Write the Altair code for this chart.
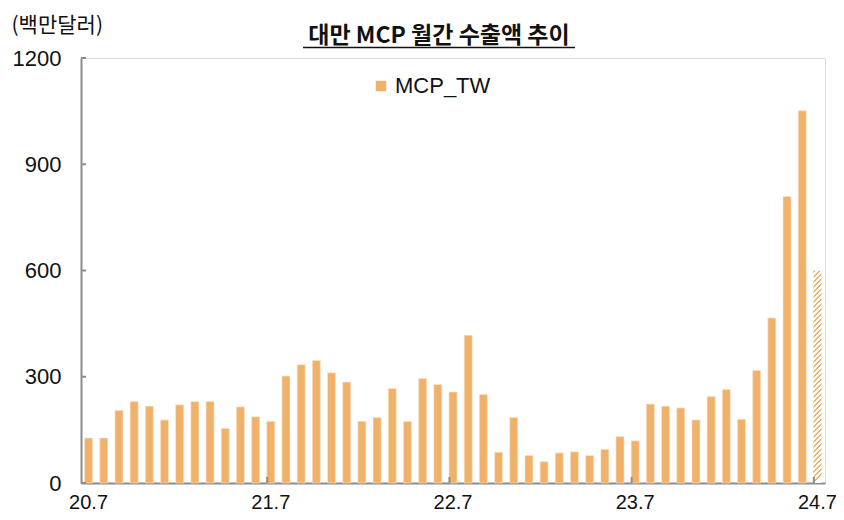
import altair as alt
import pandas as pd

# ---- data ----
months = ["20.7", "20.8", "20.9", "20.10", "20.11", "20.12",
          "21.1", "21.2", "21.3", "21.4", "21.5", "21.6",
          "21.7", "21.8", "21.9", "21.10", "21.11", "21.12",
          "22.1", "22.2", "22.3", "22.4", "22.5", "22.6",
          "22.7", "22.8", "22.9", "22.10", "22.11", "22.12",
          "23.1", "23.2", "23.3", "23.4", "23.5", "23.6",
          "23.7", "23.8", "23.9", "23.10", "23.11", "23.12",
          "24.1", "24.2", "24.3", "24.4", "24.5", "24.6",
          "24.7"]
values = [127, 127, 205, 230, 217, 178,
          221, 230, 230, 154, 215, 187,
          174, 302, 334, 346, 311, 285,
          174, 185, 267, 174, 295, 278,
          257, 417, 250, 87, 185, 78,
          60, 85, 88, 78, 95, 131,
          119, 223, 217, 212, 178, 244,
          264, 180, 318, 466, 809, 1051,
          599]
shown_labels = ["20.7", "21.7", "22.7", "23.7", "24.7"]
boundary_ticks = ["21.7", "22.7", "23.7", "24.7"]
y_ticks = [0, 300, 600, 900, 1200]
prelim_months = ["24.7"]
series_name = "MCP_TW"
title_text = "대만 MCP 월간 수출액 추이"
unit_text = "(백만달러)"

# ---- styling ----
W, H = 744, 425
YMAX = 1200
ORANGE = "#F0B26B"
PAD_INNER = 0.47
KFONT = "Noto Sans CJK KR"
NFONT = "Liberation Sans"
AXIS_GRAY = "#8C8C8C"

df = pd.DataFrame({"month": months, "value": values})
df["series"] = series_name
df["prelim"] = df["month"].isin(prelim_months)

x_scale = alt.Scale(domain=months, paddingInner=PAD_INNER, paddingOuter=PAD_INNER / 2)
y_scale = alt.Scale(domain=[0, YMAX], nice=False)

label_list = ",".join("'" + s + "'" for s in shown_labels)
x_axis = alt.Axis(
    title=None, ticks=False, tickSize=0, labelAngle=0, labelFontSize=20,
    labelFont=NFONT, labelColor="#111", labelPadding=9,
    labelExpr=f"indexof([{label_list}], datum.label) >= 0 ? datum.label : ''",
    labelOverlap=False, labelBound=False, labelFlush=False,
    domainColor=AXIS_GRAY, domainWidth=2, grid=False,
)
y_axis = alt.Axis(
    values=y_ticks, format="d", ticks=False, tickSize=0, labelFontSize=22,
    labelFont=NFONT, labelColor="#111", labelPadding=20, domainColor=AXIS_GRAY,
    domainWidth=2, grid=False, title=unit_text, titleAngle=0, titleAlign="left",
    titleBaseline="middle", titleX=-70, titleY=-33, titleFont=KFONT,
    titleFontSize=21, titleFontWeight="normal", titleColor="#111",
)

base = alt.Chart(df)

bars = base.transform_filter("!datum.prelim").mark_bar(
    stroke="#FBE6CC", strokeWidth=0.6
).encode(
    x=alt.X("month:N", sort=months, scale=x_scale, axis=x_axis),
    y=alt.Y("value:Q", scale=y_scale, axis=y_axis),
    color=alt.Color(
        "series:N",
        scale=alt.Scale(domain=[series_name], range=[ORANGE]),
        legend=alt.Legend(
            title=None, orient="none", legendX=289, legendY=17,
            symbolType="square", symbolSize=110, symbolStrokeWidth=0,
            labelFontSize=22, labelFont=NFONT, labelColor="#111",
            labelOffset=3, padding=0,
        ),
    ),
)

# hatched (preliminary) bar: diagonal stripes via a hard-stop gradient
pv = [v for m, v in zip(months, values) if m in prelim_months][0]
bar_h = pv / YMAX * H
bar_w = W / len(months) * (1 - PAD_INNER)
a = bar_w / bar_h
dt = 5.0 / (bar_h * (1 + a * a))
stops = []
k = 0
while k * dt < 1:
    s = k * dt
    m = min(s + 0.55 * dt, 1)
    e = min((k + 1) * dt, 1)
    stops += [alt.GradientStop(color=ORANGE, offset=s),
              alt.GradientStop(color=ORANGE, offset=m),
              alt.GradientStop(color="#FFFFFF", offset=m),
              alt.GradientStop(color="#FFFFFF", offset=e)]
    k += 1
hatch = alt.LinearGradient(gradient="linear", stops=stops, x1=0, y1=0, x2=a, y2=1)

hatched = base.transform_filter("datum.prelim").mark_bar(fill=hatch).encode(
    x=alt.X("month:N", sort=months, scale=x_scale),
    y=alt.Y("value:Q", scale=y_scale),
)

# inward tick marks
step = W / len(months)
xticks = alt.Chart(pd.DataFrame({"month": boundary_ticks})).mark_rule(
    color=AXIS_GRAY, strokeWidth=2, xOffset=-(PAD_INNER / 2) * step
).encode(
    x=alt.X("month:N", sort=months, scale=x_scale),
    y=alt.value(H), y2=alt.value(H - 6),
)
yticks = alt.Chart(pd.DataFrame({"v": y_ticks})).mark_rule(
    color=AXIS_GRAY, strokeWidth=2
).encode(
    y=alt.Y("v:Q", scale=y_scale), x=alt.value(0), x2=alt.value(5),
)

title = alt.Chart(pd.DataFrame({"t": [title_text]})).mark_text(
    font=KFONT, fontSize=23, fontWeight="bold", align="center",
    baseline="middle", color="#111"
).encode(text="t:N", x=alt.value(358), y=alt.value(-22))
underline = alt.Chart(pd.DataFrame({"t": [title_text]})).mark_rule(
    color="#111", strokeWidth=1.5
).encode(x=alt.value(222), x2=alt.value(494), y=alt.value(-10.5))

chart = alt.layer(bars, hatched, xticks, yticks, title, underline).properties(
    width=W, height=H,
    autosize=alt.AutoSizeParams(type="none"),
    padding={"left": 73, "top": 50, "right": 11, "bottom": 29},
).configure_view(stroke=None).configure(background="white")

chart.save("out.html", embed_options={"renderer": "svg", "actions": False})
